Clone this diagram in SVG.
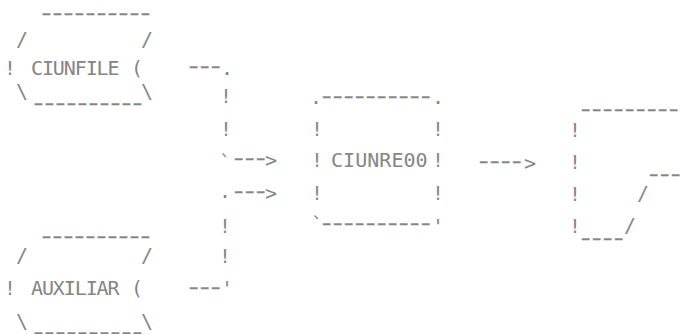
<svg xmlns="http://www.w3.org/2000/svg" width="680" height="334" viewBox="0 0 680 334">
<style>
text { font-family: "DejaVu Sans Mono", "Liberation Mono", monospace; fill: #858585; }
.t { font-size: 20px; letter-spacing: -0.6px; }
.m { font-size: 20px; text-anchor: middle; }
.d { font-size: 20px; letter-spacing: -4.18px; stroke: #858585; stroke-width: 0.4px; }
.b { font-size: 19px; text-anchor: middle; }
</style>
<rect width="680" height="334" fill="#ffffff"/>
<g id="ciunfile">
  <text class="d" transform="translate(38 19.6) scale(1.4 1)">----------</text>
  <text class="m" x="22" y="46">/</text>
  <text class="m" x="147" y="46">/</text>
  <text class="b" x="10" y="75">!</text>
  <text class="t" x="31" y="75.3" textLength="88" lengthAdjust="spacing">CIUNFILE</text>
  <text class="m" x="137" y="75">(</text>
  <text class="m" x="22" y="98">\</text>
  <text class="m" x="147" y="98">\</text>
  <text class="d" transform="translate(30 110.4) scale(1.4 1)">----------</text>
</g>
<g id="auxiliar">
  <text class="d" transform="translate(38 243.4) scale(1.4 1)">----------</text>
  <text class="m" x="22" y="262">/</text>
  <text class="m" x="147" y="262">/</text>
  <text class="b" x="10" y="295">!</text>
  <text class="t" x="31" y="295.3" textLength="88" lengthAdjust="spacing">AUXILIAR</text>
  <text class="m" x="137" y="295">(</text>
  <text class="m" x="22" y="328">\</text>
  <text class="m" x="147" y="328">\</text>
  <text class="d" transform="translate(30 339.4) scale(1.4 1)">----------</text>
</g>
<g id="ciunre00">
  <text class="m" x="316" y="104">.</text>
  <text class="d" transform="translate(318.2 103.4) scale(1.4 1)">----------</text>
  <text class="m" x="438" y="104">.</text>
  <text class="b" x="317" y="136">!</text>
  <text class="b" x="438" y="136">!</text>
  <text class="b" x="317" y="167">!</text>
  <text class="t" x="331" y="167.3" textLength="96" lengthAdjust="spacing">CIUNRE00</text>
  <text class="b" x="438" y="167">!</text>
  <text class="b" x="317" y="200">!</text>
  <text class="b" x="438" y="200">!</text>
  <text class="m" x="317" y="231">`</text>
  <text class="d" transform="translate(318.2 230.4) scale(1.4 1)">----------</text>
  <text class="m" x="438" y="232.6">'</text>
</g>
<g id="output">
  <text class="d" transform="translate(577.2 116.4) scale(1.4 1)">----------</text>
  <text class="b" x="575" y="137">!</text>
  <text class="b" x="575" y="169">!</text>
  <text class="b" x="575" y="201">!</text>
  <text class="b" x="575" y="233">!</text>
  <text class="d" transform="translate(645.2 181.4) scale(1.4 1)">---</text>
  <text class="m" x="643" y="200">/</text>
  <text class="m" x="630" y="232">/</text>
  <text class="d" transform="translate(577.2 245.4) scale(1.4 1)">----</text>
</g>
<g id="connectors">
  <text class="d" transform="translate(185.2 73.4) scale(1.4 1)">---</text>
  <text class="m" x="227" y="75">.</text>
  <text class="b" x="226" y="103">!</text>
  <text class="b" x="226" y="136">!</text>
  <text class="m" x="225" y="169">`</text>
  <text class="d" transform="translate(230.2 165.4) scale(1.4 1)">---</text>
  <text class="m" x="271" y="166.6">&gt;</text>
  <text class="m" x="225" y="198">.</text>
  <text class="d" transform="translate(230.2 198.4) scale(1.4 1)">---</text>
  <text class="m" x="271" y="199.6">&gt;</text>
  <text class="b" x="225" y="233">!</text>
  <text class="b" x="225" y="263">!</text>
  <text class="d" transform="translate(185.2 294.4) scale(1.4 1)">---</text>
  <text class="m" x="227" y="294.6">'</text>
  <text class="d" transform="translate(475.2 168.4) scale(1.4 1)">----</text>
  <text class="m" x="530" y="169.6">&gt;</text>
</g>
</svg>
